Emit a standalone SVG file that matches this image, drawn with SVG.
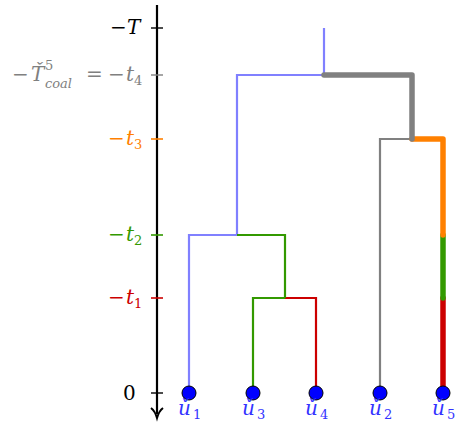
<svg xmlns="http://www.w3.org/2000/svg" width="456" height="430" viewBox="0 0 456 430">
<style>
text{font-family:"DejaVu Serif","Liberation Serif",serif;font-size:20px}
.m{font-style:italic}
.s{font-size:13px;font-style:normal}
.sm{font-size:13px;font-style:italic}
.thin{fill:none;stroke-width:2.2;stroke-linejoin:miter;stroke-linecap:butt}
.thick{fill:none;stroke-width:5.5;stroke-linejoin:round;stroke-linecap:round}
.leaf{fill:#0000ff;stroke:#000;stroke-width:1}
.ll{fill:#3333ff;font-style:italic}
.tick{stroke:#000;stroke-width:1.4}
</style>
<g id="axis">
<line x1="157" y1="5" x2="157" y2="414" stroke="#000" stroke-width="2.2"/>
<path d="M151,408 Q155,411 157,418 Q159,411 163,408" fill="none" stroke="#000" stroke-width="2"/>
<line class="tick" x1="151" y1="28" x2="163" y2="28"/>
<line x1="151" y1="75" x2="163" y2="75" stroke="#808080" stroke-width="1.4"/>
<line x1="151" y1="139" x2="163" y2="139" stroke="#ff8000" stroke-width="1.6"/>
<line x1="151" y1="235" x2="163" y2="235" stroke="#339900" stroke-width="1.6"/>
<line x1="151" y1="298" x2="163" y2="298" stroke="#cc0000" stroke-width="1.6"/>
<line class="tick" x1="151" y1="393" x2="163" y2="393"/>
<text y="34" fill="#000"><tspan x="110">−</tspan><tspan class="m" x="127">T</tspan></text>
<text y="81" fill="#808080"><tspan x="12">−</tspan><tspan class="m" x="31">Ť</tspan><tspan class="s" x="45" y="70">5</tspan></text>
<text class="sm" x="45" y="88" fill="#808080">coal</text>
<text y="81" fill="#808080"><tspan x="86">=</tspan><tspan x="108">−</tspan><tspan class="m" x="126">t</tspan><tspan class="s" x="134" y="85">4</tspan></text>
<text y="145" fill="#ff8000"><tspan x="108">−</tspan><tspan class="m" x="126">t</tspan><tspan class="s" x="134" y="149">3</tspan></text>
<text y="241" fill="#339900"><tspan x="108">−</tspan><tspan class="m" x="126">t</tspan><tspan class="s" x="134" y="245">2</tspan></text>
<text y="304" fill="#cc0000"><tspan x="108">−</tspan><tspan class="m" x="126">t</tspan><tspan class="s" x="134" y="308">1</tspan></text>
<text x="123" y="400" fill="#000">0</text>
</g>
<g id="connectors">
<polyline class="thin" stroke="#8080ff" points="189,393 189,235 237,235"/>
<polyline class="thin" stroke="#8080ff" points="237,235 237,75 324,75"/>
<line class="thin" stroke="#8080ff" x1="324" y1="75" x2="324" y2="28"/>
<polyline class="thin" stroke="#339900" points="253,393 253,298 285,298"/>
<polyline class="thin" stroke="#cc0000" points="316,393 316,298 285,298"/>
<polyline class="thin" stroke="#339900" points="285,298 285,235 237,235"/>
<polyline class="thin" stroke="#808080" points="380,393 380,139 412,139"/>
<line class="thick" stroke="#cc0000" x1="443" y1="393" x2="443" y2="298"/>
<line class="thick" stroke="#339900" x1="443" y1="298" x2="443" y2="235"/>
<polyline class="thick" stroke="#ff8000" points="443,235 443,139 412,139"/>
<polyline class="thick" stroke="#808080" points="412,139 412,75 324,75"/>
</g>
<g id="u1"><circle class="leaf" cx="189" cy="393" r="7"/><text class="ll" x="178" y="415">ǔ<tspan class="s" x="193" y="419">1</tspan></text></g>
<g id="u3"><circle class="leaf" cx="253" cy="393" r="7"/><text class="ll" x="242" y="415">ǔ<tspan class="s" x="257" y="419">3</tspan></text></g>
<g id="u4"><circle class="leaf" cx="316" cy="393" r="7"/><text class="ll" x="305" y="415">ǔ<tspan class="s" x="320" y="419">4</tspan></text></g>
<g id="u2"><circle class="leaf" cx="380" cy="393" r="7"/><text class="ll" x="369" y="415">ǔ<tspan class="s" x="384" y="419">2</tspan></text></g>
<g id="u5"><circle class="leaf" cx="443" cy="393" r="7"/><text class="ll" x="432" y="415">ǔ<tspan class="s" x="447" y="419">5</tspan></text></g>
</svg>
